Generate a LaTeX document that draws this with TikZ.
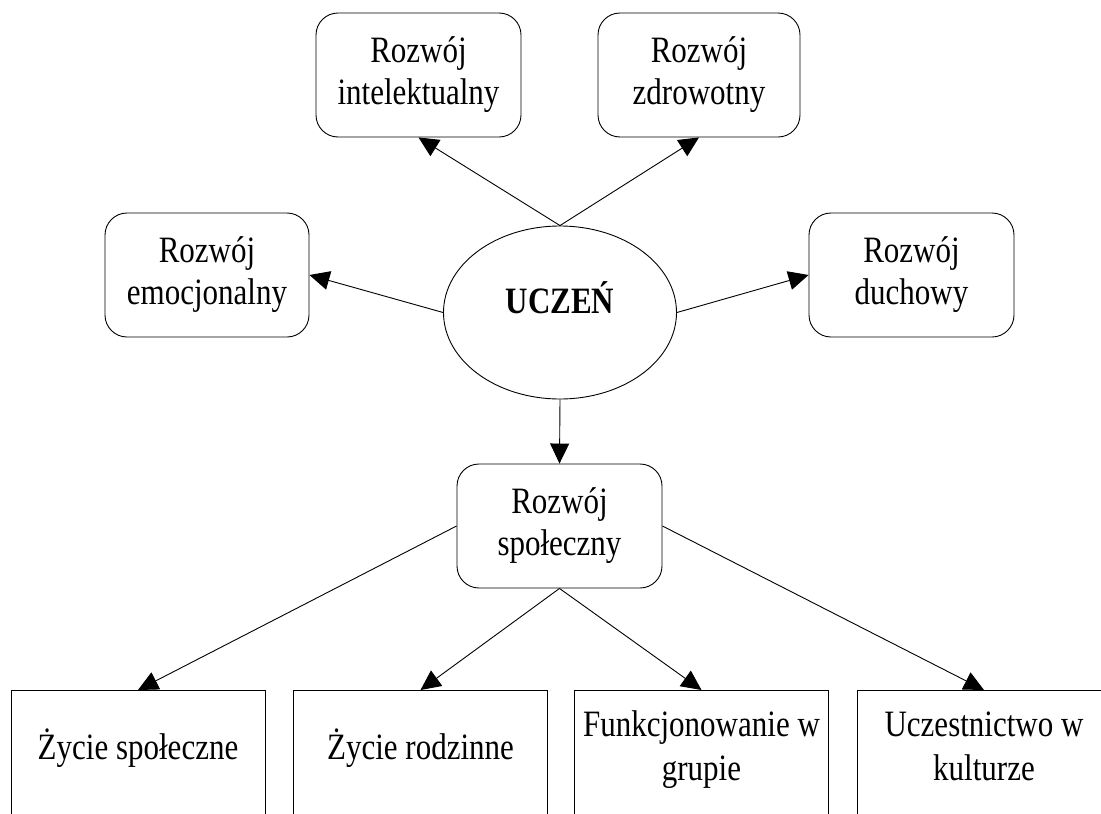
\documentclass[tikz,border=0pt]{standalone}
\usepackage{graphicx}
\usepackage{fontspec}
\setmainfont{Liberation Serif}
\usetikzlibrary{shapes.geometric,arrows.meta}
\newcommand{\vst}[1]{\scalebox{1}[1.2]{#1}}
\newcommand{\twol}[2]{\vst{\begin{tabular}{@{}c@{}}#1\\#2\end{tabular}}}
\begin{document}
\begin{tikzpicture}[x=1pt,y=-1pt,
  txt/.style={font=\fontsize{31}{35}\selectfont},
  txtb/.style={font=\fontsize{31}{36.7}\selectfont},
  rbox/.style={draw, line width=0.9pt, rounded corners=22pt, minimum width=#1,
    minimum height=124pt, inner sep=0pt, txt},
  rbox/.default=205pt,
  sbox/.style={draw, line width=0.9pt, minimum width=254pt, minimum height=170pt,
    inner sep=0pt, anchor=north},
  oval/.style={draw, line width=0.9pt, ellipse, minimum width=233pt,
    minimum height=173pt, inner sep=0pt},
  arr/.style={line width=0.9pt, -{Triangle[length=20pt,width=19pt]}}
]
\useasboundingbox (0,0) rectangle (1101,814);
\clip (0,0) rectangle (1101,814);
\fill[white] (0,0) rectangle (1101,814);

% top level
\node[rbox=205pt] (intel) at (418.5,75) {\twol{Rozwój}{intelektualny}};
\node[rbox=202pt] (zdrow) at (699,75) {\twol{Rozwój}{zdrowotny}};
\node[rbox=204pt] (emoc) at (207,275) {\twol{Rozwój}{emocjonalny}};
\node[rbox=205pt] (duch) at (911.5,275) {\twol{Rozwój}{duchowy}};
\node[oval] (u) at (560,312.5) {};
\node[font=\fontsize{31}{36}\selectfont\bfseries, anchor=base] (ut) at (560,313) {\vst{UCZEŃ}};
\node[rbox=205pt] (spol) at (559.5,526) {\twol{Rozwój}{społeczny}};

% bottom boxes
\node[sbox] (b1) at (138,690) {};
\node[sbox] (b2) at (420.5,690) {};
\node[sbox] (b3) at (701.5,690) {};
\node[sbox] (b4) at (984,690) {};
\node[txt, anchor=base] (b1t) at (138,759) {\vst{Życie społeczne}};
\node[txt, anchor=base] (b2t) at (420.5,759) {\vst{Życie rodzinne}};
\node[txtb] (b3t) at (701.5,750) {\twol{Funkcjonowanie w}{grupie}};
\node[txtb] (b4t) at (984,750) {\twol{Uczestnictwo w}{kulturze}};

% connectors
\draw[arr] (u.north) -- (intel.south);
\draw[arr] (u.north) -- (zdrow.south);
\draw[arr] (u.west) -- (emoc.east);
\draw[arr] (u.east) -- (duch.west);
\draw[arr] (u.south) -- (spol.north);
\draw[arr] (spol.west) -- (b1.north);
\draw[arr] (spol.south) -- (b2.north);
\draw[arr] (spol.south) -- (b3.north);
\draw[arr] (spol.east) -- (b4.north);
\end{tikzpicture}
\end{document}
